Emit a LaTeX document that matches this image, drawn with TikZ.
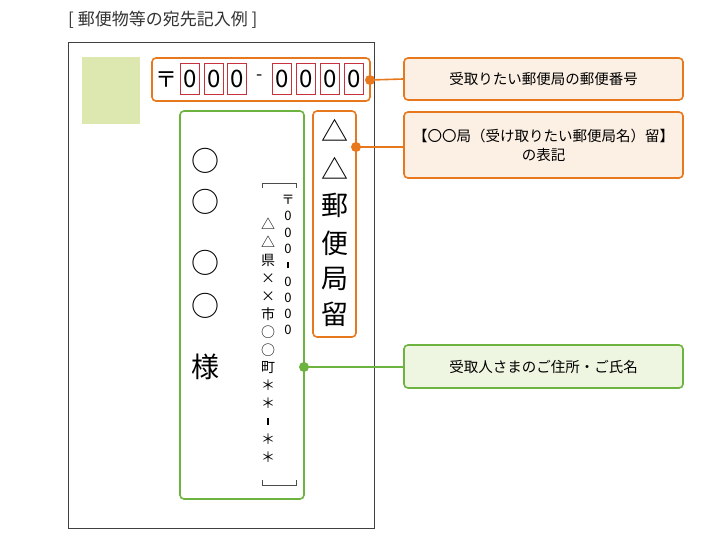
\documentclass[tikz,border=0pt]{standalone}
\usepackage{fontspec}
\setmainfont{Noto Sans CJK JP}
\definecolor{org}{HTML}{E8781E}
\definecolor{orgf}{HTML}{FCEFE3}
\definecolor{grn}{HTML}{6DB33F}
\definecolor{grnf}{HTML}{EEF5E0}
\definecolor{stamp}{HTML}{DCE8B0}
\definecolor{redb}{HTML}{C8323C}
\newcommand{\myvdash}{\rule[0.2ex]{0.12em}{0.5em}}
\begin{document}
\begin{tikzpicture}[x=1pt,y=-1pt,
  obox/.style={draw=org,line width=1.6pt,rounded corners=4pt},
  gbox/.style={draw=grn,line width=1.6pt,rounded corners=4pt},
  rbox/.style={draw=redb,line width=0.7pt,minimum width=19pt,minimum height=31pt,inner sep=0pt,font=\fontsize{24}{24}\selectfont},
  big/.style={font=\fontsize{28}{28}\selectfont,inner sep=0pt},
  lab/.style={font=\fontsize{14.5}{19}\selectfont,align=center,text=black}]
\useasboundingbox (0,0) rectangle (707,543);
\fill[white] (0,0) rectangle (707,543);
\node[font=\fontsize{17}{17}\selectfont,anchor=west,text=black!80,inner sep=0pt] (title) at (68,20) {[ 郵便物等の宛先記入例 ]};
\draw[black!75,line width=0.8pt] (68,42) rectangle (374,528);
\fill[stamp] (82,57) rectangle (140,124);
% postal code
\draw[obox] (152,58) rectangle (370,101);
\node[font=\fontsize{22}{22}\selectfont] (yu) at (166,80) {〒};
\foreach \x/\n in {190/a,214/b,237/c,282/d,306/e,330/f,354/g}
  \node[rbox] (\n) at (\x,79) {0};
\node[font=\fontsize{18}{18}\selectfont] (dash) at (260,78) {-};
% post office column
\draw[obox] (313,111) rectangle (356,337);
\foreach \y/\c/\n in {130/△/p1,168/△/p2,205/郵/p3,243/便/p4,279/局/p5,314/留/p6}
  \node[big,font=\fontsize{27}{27}\selectfont] (\n) at (335,\y) {\c};
% name box
\draw[gbox] (180,111) rectangle (304,499);
\foreach \y/\c/\n in {161/○/n1,202/○/n2,263/○/n3,306/○/n4,367/様/n5}
  \node[big] (\n) at (205,\y) {\c};
\draw[black!70,line width=1pt] (262,188) -- (262,183) -- (296,183) -- (296,188);
\draw[black!70,line width=1pt] (262,480) -- (262,485) -- (296,485) -- (296,480);
\node[font=\fontsize{13}{16.3}\selectfont,align=center,anchor=north,inner sep=0pt] (zip) at (288,195)
  {〒\\0\\0\\0\\\myvdash\\0\\0\\0\\0};
\node[font=\fontsize{14}{17.9}\selectfont,align=center,anchor=north,inner sep=0pt] (addr) at (268,218)
  {△\\△\\県\\×\\×\\市\\○\\○\\町\\＊\\＊\\\myvdash\\＊\\＊};
% labels
\node[obox,fill=orgf,minimum width=279pt,minimum height=42pt,lab] (L1) at (543.5,79) {受取りたい郵便局の郵便番号};
\node[obox,fill=orgf,minimum width=279pt,minimum height=66pt,lab] (L2) at (543.5,145) {【〇〇局（受け取りたい郵便局名）留】\\の表記};
\node[gbox,fill=grnf,minimum width=279pt,minimum height=43pt,lab] (L3) at (543.5,366.5) {受取人さまのご住所・ご氏名};
\coordinate (d1) at (370,80);
\coordinate (d2) at (356,147);
\coordinate (d3) at (304,367);
\draw[org,line width=1.6pt] (d1) -- (L1.west);
\draw[org,line width=1.6pt] (d2) -- (L2.west|-d2);
\draw[grn,line width=1.6pt] (d3) -- (L3.west|-d3);
\fill[org] (d1) circle (5pt);
\fill[org] (d2) circle (5pt);
\fill[grn] (d3) circle (5pt);
\end{tikzpicture}
\end{document}
